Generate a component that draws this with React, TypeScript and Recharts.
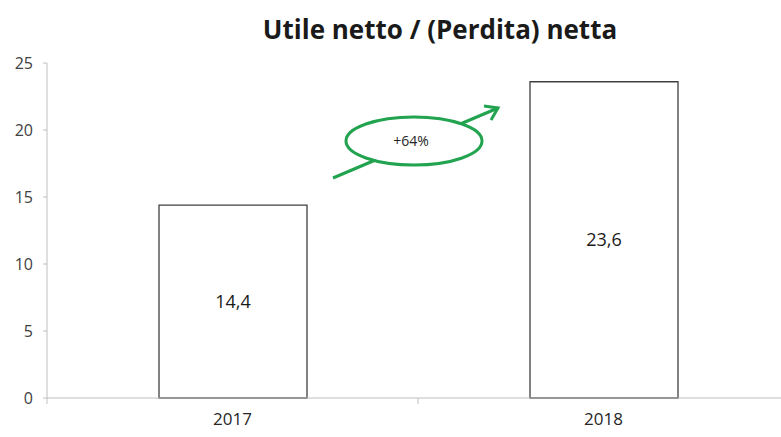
import React from "react";
import { Bar, BarChart, LabelList, XAxis, YAxis } from "recharts";

const years = ["2017", "2018"];
const utile = [14.4, 23.6];
const yTicks = [0, 5, 10, 15, 20, 25];
const growthLabel = "+64%";

const data = years.map((year, i) => ({ year, value: utile[i] }));

const W = 800;
const H = 437;
const margin = { top: 63, right: 11, bottom: 9, left: 0 };
const yAxisWidth = 47;
const axisColor = "#bfbfbf";
const green = "#22a350";

const XTick = (props: any) => {
    const { x, y, payload } = props;
    const band = (W - margin.left - margin.right - yAxisWidth) / years.length;
    return (
        <g>
            <line x1={x - band / 2} y1={y - 8} x2={x - band / 2} y2={y - 2} stroke={axisColor} />
            {payload.index === years.length - 1 && (
                <line x1={x + band / 2} y1={y - 8} x2={x + band / 2} y2={y - 2} stroke={axisColor} />
            )}
            <text x={x} y={y + 19} textAnchor="middle" fontSize={17} fill="#262626">
                {payload.value}
            </text>
        </g>
    );
};

export default function App() {
    return (
        <div
            style={{
                position: "absolute",
                left: 0,
                top: 0,
                width: 781,
                height: 437,
                overflow: "hidden",
                background: "#fff",
                fontFamily: "'Open Sans', sans-serif",
            }}
        >
            <div
                style={{
                    position: "absolute",
                    top: 11,
                    left: 240,
                    width: 400,
                    textAlign: "center",
                    fontSize: 26,
                    fontWeight: 700,
                    color: "#1a1a1a",
                }}
            >
                Utile netto / (Perdita) netta
            </div>
            <BarChart width={W} height={H} data={data} margin={margin} style={{ position: "absolute", left: 0, top: 0 }}>
                <XAxis
                    dataKey="year"
                    stroke={axisColor}
                    tickLine={false}
                    tick={<XTick />}
                    height={30}
                />
                <YAxis
                    domain={[0, 25]}
                    ticks={yTicks}
                    width={yAxisWidth}
                    stroke={axisColor}
                    tickSize={4}
                    tickMargin={10}
                    tick={{ fill: "#404040", fontSize: 16 }}
                />
                <Bar dataKey="value" fill="#ffffff" stroke="#404040" strokeWidth={1.3} barSize={148} isAnimationActive={false}>
                    <LabelList
                        dataKey="value"
                        position="center"
                        formatter={(v: any) => String(v).replace(".", ",")}
                        style={{ fill: "#1a1a1a", fontSize: 18 }}
                    />
                </Bar>
            </BarChart>
            <svg width={781} height={437} style={{ position: "absolute", left: 0, top: 0, pointerEvents: "none" }}>
                <line x1={333} y1={178} x2={498} y2={108} stroke={green} strokeWidth={3} />
                <polyline points="484,106 498,108 491,120" fill="none" stroke={green} strokeWidth={3} />
                <ellipse cx={414} cy={141} rx={68} ry={24} fill="#fff" stroke={green} strokeWidth={3} />
                <text x={411} y={146} textAnchor="middle" fontSize={14} fill="#262626">
                    {growthLabel}
                </text>
            </svg>
        </div>
    );
}
